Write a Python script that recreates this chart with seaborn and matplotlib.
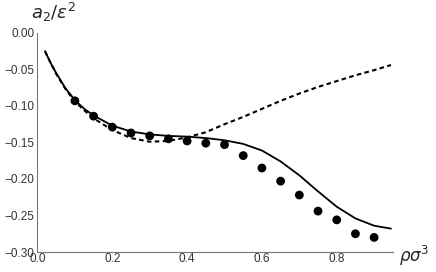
import numpy as np
import pandas as pd
import matplotlib
matplotlib.use("Agg")
import matplotlib.pyplot as plt
from matplotlib.ticker import MultipleLocator, FuncFormatter
import seaborn as sns

# curve values
solid_x = [0.02, 0.035, 0.05, 0.075, 0.1, 0.125, 0.15, 0.2, 0.25, 0.3, 0.35, 0.4, 0.45, 0.5,
           0.55, 0.6, 0.65, 0.7, 0.75, 0.8, 0.85, 0.9, 0.945]
solid_y = [-0.025, -0.041, -0.055, -0.076, -0.092, -0.104, -0.113, -0.127, -0.135, -0.139,
           -0.141, -0.142, -0.144, -0.147, -0.152, -0.161, -0.176, -0.195, -0.217, -0.238,
           -0.254, -0.264, -0.268]

dash_x = [0.02, 0.035, 0.05, 0.075, 0.1, 0.125, 0.15, 0.2, 0.25, 0.3, 0.35, 0.4, 0.45, 0.5,
          0.55, 0.6, 0.65, 0.7, 0.75, 0.8, 0.85, 0.9, 0.945]
dash_y = [-0.025, -0.041, -0.056, -0.077, -0.094, -0.106, -0.117, -0.133, -0.144, -0.149,
          -0.148, -0.143, -0.136, -0.125, -0.115, -0.104, -0.093, -0.083, -0.074, -0.066,
          -0.058, -0.051, -0.044]

# simulation points
dot_x = [0.1, 0.15, 0.2, 0.25, 0.3, 0.35, 0.4, 0.45, 0.5, 0.55, 0.6, 0.65, 0.7, 0.75,
         0.8, 0.85, 0.9]
dot_y = [-0.093, -0.114, -0.129, -0.137, -0.141, -0.145, -0.148, -0.151, -0.153, -0.168,
         -0.185, -0.203, -0.222, -0.244, -0.256, -0.275, -0.280]

sns.set_style("white")
plt.rcParams['font.family'] = ['Liberation Sans', 'DejaVu Sans']

fig = plt.figure(figsize=(4.36, 2.72), dpi=100)
ax = fig.add_axes([0.086, 0.0735, 0.815, 0.8055])

sns.lineplot(x=solid_x, y=solid_y, ax=ax, color='black', lw=1.3)
sns.lineplot(x=dash_x, y=dash_y, ax=ax, color='black', lw=1.5, linestyle=(0, (2.2, 1.6)))
sns.scatterplot(x=dot_x, y=dot_y, ax=ax, color='black', s=40, edgecolor='none', zorder=3)

ax.set_xlim(0, 0.95)
ax.set_ylim(-0.30, 0.0)
ax.spines['top'].set_visible(False)
ax.spines['right'].set_visible(False)
for s in ['left', 'bottom']:
    ax.spines[s].set_color('#777777')
    ax.spines[s].set_linewidth(0.8)

ax.xaxis.set_major_locator(MultipleLocator(0.2))
ax.xaxis.set_minor_locator(MultipleLocator(0.05))
ax.yaxis.set_major_locator(MultipleLocator(0.05))
ax.yaxis.set_minor_locator(MultipleLocator(0.01))
ax.xaxis.set_major_formatter(FuncFormatter(lambda v, p: f'{v:.1f}'.replace('-', '\u2212')))
ax.yaxis.set_major_formatter(FuncFormatter(lambda v, p: f'{v:.2f}'.replace('-', '\u2212')))
ax.tick_params(which='both', direction='in', color='#777777', labelcolor='#333333',
               labelsize=8.5, pad=2)
ax.tick_params(which='major', length=4, width=0.8)
ax.tick_params(which='minor', length=2, width=0.6)
ax.tick_params(axis='x', pad=1)

fig.text(0.072, 0.955, r'$a_2/\epsilon^2$', fontsize=13, ha='left', va='center')
fig.text(0.915, 0.058, r'$\rho\sigma^3$', fontsize=12, ha='left', va='center')

fig.savefig('out.png', dpi=100)
